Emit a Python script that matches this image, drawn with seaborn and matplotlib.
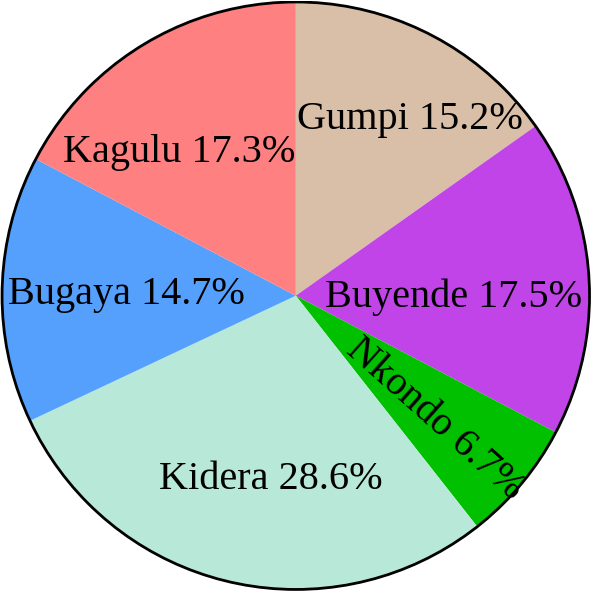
import matplotlib
matplotlib.use("Agg")
import matplotlib.pyplot as plt
import seaborn as sns
import numpy as np

sns.set_theme(style="white")
plt.rcParams['font.family'] = ['Liberation Serif', 'DejaVu Serif']

categories = ["Gumpi", "Buyende", "Nkondo", "Kidera", "Bugaya", "Kagulu"]
values = [15.2, 17.5, 6.7, 28.6, 14.7, 17.3]
colors = ["#d9bea8", "#c044e8", "#00c000", "#b8e8d8", "#55a0fc", "#fe8080"]
rotated = ["Nkondo"]

# label placement (layout only): radius fraction and polar angle in degrees
label_r = [0.715, 0.537, 0.634, 0.632, 0.578, 0.628]
label_ang = [57.0, -0.6, -41.7, -97.7, 179.5, 129.3]

fig = plt.figure(figsize=(5.91, 5.92), dpi=100)
ax = fig.add_axes([0, 0, 1, 1])
labels = [f"{c} {v:.1f}%" for c, v in zip(categories, values)]
wedges, texts = ax.pie(values, labels=labels, colors=colors, startangle=90,
                       counterclock=False, labeldistance=0.6,
                       textprops=dict(fontsize=29, color="black", ha="center", va="center"),
                       wedgeprops=dict(linewidth=0, antialiased=True))
for w, t, c, r, a in zip(wedges, texts, categories, label_r, label_ang):
    t.set_horizontalalignment("center")
    t.set_verticalalignment("center")
    t.set_position((r * np.cos(np.deg2rad(a)), r * np.sin(np.deg2rad(a))))
    if c in rotated:
        t.set_rotation(a)
        t.set_rotation_mode("anchor")
circle = plt.Circle((0, 0), 1, fill=False, edgecolor="black", linewidth=2)
ax.add_patch(circle)
ax.set_xlim(-1.007, 1.005)
ax.set_ylim(-1.007, 1.005)
ax.set_aspect("equal")
ax.axis("off")
fig.savefig("out.png", dpi=100)
